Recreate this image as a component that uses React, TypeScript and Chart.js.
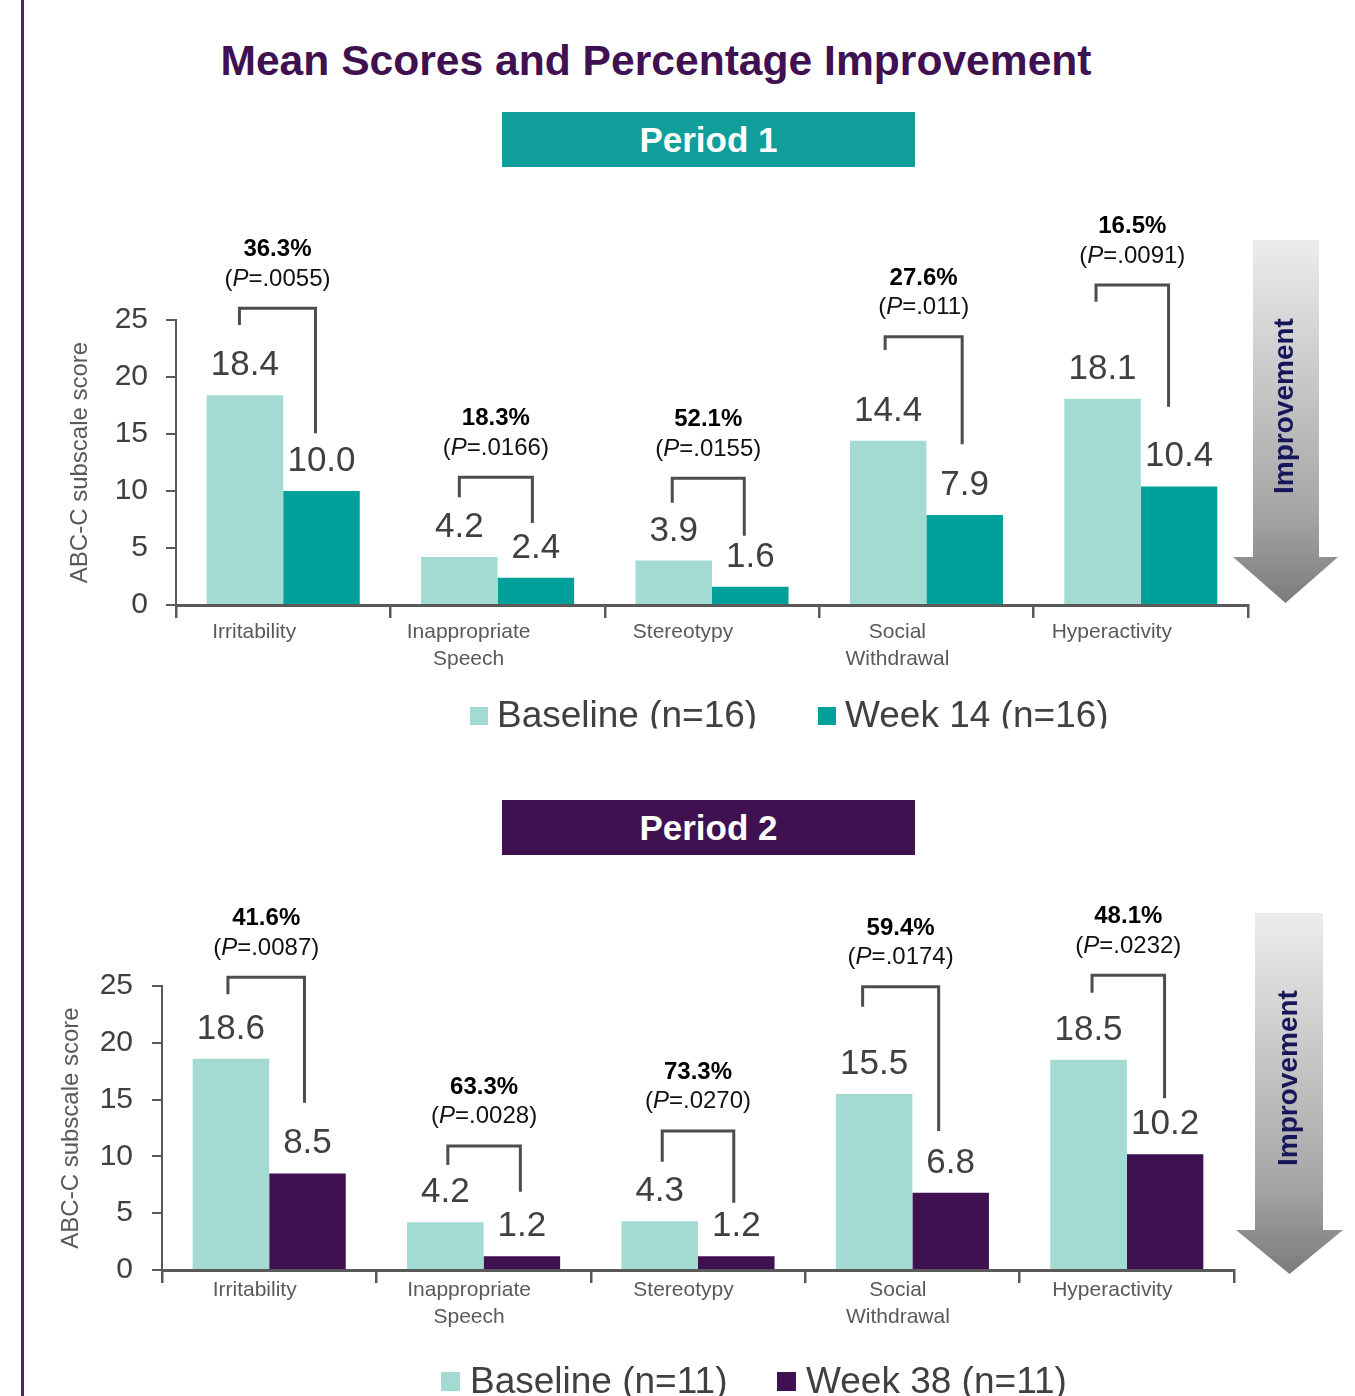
import React, { useEffect, useRef } from 'react';
import { Chart, registerables } from 'chart.js';

Chart.register(...registerables);

const FONT = "'Liberation Sans', Arial, Helvetica, sans-serif";

// ---------- data ----------
const CATEGORIES: string[][] = [
  ['Irritability'],
  ['Inappropriate', 'Speech'],
  ['Stereotypy'],
  ['Social', 'Withdrawal'],
  ['Hyperactivity'],
];
const Y_MIN = 0;
const Y_MAX = 25;
const Y_STEP = 5;
const Y_TITLE = 'ABC-C subscale score';

const P1_BASELINE = [18.4, 4.2, 3.9, 14.4, 18.1];
const P1_WEEK14 = [10.0, 2.4, 1.6, 7.9, 10.4];
const P1_PCT = ['36.3%', '18.3%', '52.1%', '27.6%', '16.5%'];
const P1_PVAL = ['.0055', '.0166', '.0155', '.011', '.0091'];
const P1_LABELS = ['Baseline (n=16)', 'Week 14 (n=16)'];

const P2_BASELINE = [18.6, 4.2, 4.3, 15.5, 18.5];
const P2_WEEK38 = [8.5, 1.2, 1.2, 6.8, 10.2];
const P2_PCT = ['41.6%', '63.3%', '73.3%', '59.4%', '48.1%'];
const P2_PVAL = ['.0087', '.0028', '.0270', '.0174', '.0232'];
const P2_LABELS = ['Baseline (n=11)', 'Week 38 (n=11)'];

// bracket levels in score units (top bar, left-leg end, right-leg end)
const P1_BR_TOP = [26.03, 11.2, 11.11, 23.54, 28.07];
const P1_BR_LEFT = [24.56, 9.45, 8.97, 22.37, 26.6];
const P1_BR_RIGHT = [15.06, 7.19, 6.08, 14.1, 17.4];
const P1_BR_DXL = [-5.5, 0, -1.5, -3, -6.5];
const P1_BR_DXR = [-6, -3.5, -6, -2.5, -10.5];

const P2_BR_TOP = [25.77, 10.92, 12.24, 24.94, 25.94];
const P2_BR_LEFT = [24.27, 9.24, 9.53, 23.18, 24.41];
const P2_BR_RIGHT = [14.73, 6.89, 5.92, 12.24, 15.11];
const P2_BR_DXL = [-3, 2.5, 2.5, -11.5, 3.5];
const P2_BR_DXR = [-3, -1.5, -2.5, -12, -0.5];

const C_BASE = '#a3dbd2';
const C_W14 = '#00a19a';
const C_W38 = '#3f1150';
const C_PURPLE = '#3f1150';
const C_TEAL_BOX = '#0f9e9a';
const C_AXIS = '#595959';
const C_TEXT = '#404040';

// ---------- plugin ----------
const annotPlugin = {
  id: 'annot',
  afterDatasetsDraw(chart: any, _args: any, opts: any) {
    const ctx = chart.ctx as CanvasRenderingContext2D;
    const ys = chart.scales.y;
    const m0 = chart.getDatasetMeta(0);
    const m1 = chart.getDatasetMeta(1);
    ctx.save();
    // value labels
    ctx.font = `35px ${FONT}`;
    ctx.fillStyle = C_TEXT;
    ctx.textAlign = 'center';
    ctx.textBaseline = 'alphabetic';
    [m0, m1].forEach((m: any, di: number) => {
      m.data.forEach((bar: any, j: number) => {
        const v = chart.data.datasets[di].data[j] as number;
        ctx.fillText(v.toFixed(1), bar.x, bar.y - 20);
      });
    });
    // brackets
    const b = opts.bracket;
    for (let j = 0; j < m0.data.length; j++) {
      const xl = m0.data[j].x + b.dxl[j];
      const xr = m1.data[j].x + b.dxr[j];
      const yt = ys.getPixelForValue(b.top[j]);
      ctx.strokeStyle = '#4d4d4d';
      ctx.lineWidth = 3;
      ctx.lineCap = 'butt';
      ctx.lineJoin = 'miter';
      ctx.beginPath();
      ctx.moveTo(xl, ys.getPixelForValue(b.left[j]));
      ctx.lineTo(xl, yt);
      ctx.lineTo(xr, yt);
      ctx.lineTo(xr, ys.getPixelForValue(b.right[j]));
      ctx.stroke();
      const cx = (xl + xr) / 2;
      ctx.textAlign = 'center';
      ctx.fillStyle = '#000';
      ctx.font = `bold 24px ${FONT}`;
      ctx.fillText(opts.pct[j], cx, yt - 52);
      // (P=.xxxx)
      const normal = `24px ${FONT}`;
      const ital = `italic 24px ${FONT}`;
      const segs: [string, string][] = [
        ['(', normal],
        ['P', ital],
        ['=' + opts.pval[j] + ')', normal],
      ];
      let total = 0;
      segs.forEach(([t, f]) => {
        ctx.font = f;
        total += ctx.measureText(t).width;
      });
      let x = cx - total / 2;
      ctx.textAlign = 'left';
      ctx.fillStyle = '#111';
      segs.forEach(([t, f]) => {
        ctx.font = f;
        ctx.fillText(t, x, yt - 22.5);
        x += ctx.measureText(t).width;
      });
    }
    ctx.restore();
  },
  afterDraw(chart: any, _args: any, opts: any) {
    const ctx = chart.ctx as CanvasRenderingContext2D;
    const oy = opts.offsetY;
    // improvement arrow
    const a = opts.arrow;
    ctx.save();
    const g = ctx.createLinearGradient(0, a.top - oy, 0, a.tip - oy);
    g.addColorStop(0, '#ececec');
    g.addColorStop(0.75, '#a6a6a6');
    g.addColorStop(1, '#7b7b7b');
    ctx.fillStyle = g;
    ctx.beginPath();
    ctx.moveTo(a.x0, a.top - oy);
    ctx.lineTo(a.x1, a.top - oy);
    ctx.lineTo(a.x1, a.headY - oy);
    ctx.lineTo(a.hx1, a.headY - oy);
    ctx.lineTo((a.hx0 + a.hx1) / 2, a.tip - oy);
    ctx.lineTo(a.hx0, a.headY - oy);
    ctx.lineTo(a.x0, a.headY - oy);
    ctx.closePath();
    ctx.fill();
    ctx.translate(a.textX, a.textY - oy);
    ctx.rotate(-Math.PI / 2);
    ctx.font = `bold 28px ${FONT}`;
    ctx.fillStyle = '#16165a';
    ctx.textAlign = 'center';
    ctx.textBaseline = 'middle';
    ctx.fillText('Improvement', 0, 0);
    ctx.restore();

    // legend
    const l = opts.legend;
    ctx.save();
    ctx.beginPath();
    ctx.rect(0, 0, chart.width, l.clipY - oy);
    ctx.clip();
    ctx.font = `37px ${FONT}`;
    ctx.textAlign = 'left';
    ctx.textBaseline = 'alphabetic';
    chart.data.datasets.forEach((ds: any, i: number) => {
      const x = l.xs[i];
      ctx.fillStyle = ds.backgroundColor;
      ctx.fillRect(x, l.sqTop - oy, l.sq, l.sq);
      ctx.fillStyle = C_TEXT;
      ctx.fillText(ds.label, x + l.sq + l.gap, l.baseline - oy);
    });
    ctx.restore();
  },
};

type PanelCfg = {
  canvasTop: number;
  height: number;
  padLeft: number;
  yWidth: number;
  padRight: number;
  padTop: number;
  xHeight: number;
  padBottom: number;
  labelOffset: number;
  xLabelPad: number;
  tickPad: number;
  baseline: number[];
  follow: number[];
  labels: string[];
  followColor: string;
  pct: string[];
  pval: string[];
  bracket: any;
  arrow: any;
  legend: any;
};

function Panel({ cfg }: { cfg: PanelCfg }) {
  const ref = useRef<HTMLCanvasElement>(null);
  useEffect(() => {
    if (!ref.current) return;
    const chart = new Chart(ref.current, {
      type: 'bar',
      data: {
        labels: CATEGORIES,
        datasets: [
          { label: cfg.labels[0], data: cfg.baseline, backgroundColor: C_BASE, borderWidth: 0 },
          { label: cfg.labels[1], data: cfg.follow, backgroundColor: cfg.followColor, borderWidth: 0 },
        ],
      },
      options: {
        responsive: false,
        animation: false,
        events: [],
        datasets: { bar: { categoryPercentage: 0.714, barPercentage: 1.0 } },
        layout: {
          padding: { left: cfg.padLeft, right: cfg.padRight, top: cfg.padTop, bottom: cfg.padBottom },
        },
        scales: {
          x: {
            offset: true,
            grid: {
              display: true,
              offset: true,
              drawOnChartArea: false,
              drawTicks: true,
              tickLength: 13,
              color: C_AXIS,
              lineWidth: 2.5,
            },
            border: { display: true, color: C_AXIS, width: 3 },
            ticks: {
              color: C_AXIS,
              font: { family: FONT, size: 21, lineHeight: 1.27 },
              padding: cfg.xLabelPad,
              labelOffset: cfg.labelOffset,
              maxRotation: 0,
              minRotation: 0,
              autoSkip: false,
            },
            afterFit: (s: any) => {
              s.height = cfg.xHeight;
            },
          },
          y: {
            min: Y_MIN,
            max: Y_MAX,
            ticks: {
              stepSize: Y_STEP,
              color: C_TEXT,
              font: { family: FONT, size: 30 },
              padding: cfg.tickPad,
            },
            grid: {
              display: true,
              drawOnChartArea: false,
              drawTicks: true,
              tickLength: 10,
              color: C_AXIS,
              lineWidth: 2,
            },
            border: { display: true, color: C_AXIS, width: 2 },
            title: {
              display: true,
              text: Y_TITLE,
              color: C_AXIS,
              font: { family: FONT, size: 24, lineHeight: 1.2 },
              padding: 0,
            },
            afterFit: (s: any) => {
              s.width = cfg.yWidth;
            },
          },
        },
        plugins: {
          legend: { display: false },
          tooltip: { enabled: false },
          title: { display: false },
          annot: {
            offsetY: cfg.canvasTop,
            pct: cfg.pct,
            pval: cfg.pval,
            bracket: cfg.bracket,
            arrow: cfg.arrow,
            legend: cfg.legend,
          },
        } as any,
      },
      plugins: [annotPlugin],
    });
    return () => chart.destroy();
  }, []);
  return (
    <canvas
      ref={ref}
      width={1355}
      height={cfg.height}
      style={{ position: 'absolute', left: 0, top: cfg.canvasTop, width: 1355, height: cfg.height, display: 'block' }}
    />
  );
}

const PANEL1: PanelCfg = {
  canvasTop: 180,
  height: 560,
  padLeft: 66,
  yWidth: 110,
  padRight: 107,
  padTop: 140,
  xHeight: 85,
  padBottom: 50,
  labelOffset: -29,
  xLabelPad: 1,
  tickPad: 18,
  baseline: P1_BASELINE,
  follow: P1_WEEK14,
  labels: P1_LABELS,
  followColor: C_W14,
  pct: P1_PCT,
  pval: P1_PVAL,
  bracket: { top: P1_BR_TOP, left: P1_BR_LEFT, right: P1_BR_RIGHT, dxl: P1_BR_DXL, dxr: P1_BR_DXR },
  arrow: { x0: 1253, x1: 1319, top: 240, headY: 557, hx0: 1233, hx1: 1338, tip: 603, textX: 1285, textY: 406 },
  legend: { xs: [470, 818], sq: 18, sqTop: 707, baseline: 726.5, clipY: 728.5, gap: 9 },
};

const PANEL2: PanelCfg = {
  canvasTop: 870,
  height: 526,
  padLeft: 57,
  yWidth: 105,
  padRight: 121,
  padTop: 116,
  xHeight: 85,
  padBottom: 41,
  labelOffset: -14.5,
  xLabelPad: -6,
  tickPad: 19,
  baseline: P2_BASELINE,
  follow: P2_WEEK38,
  labels: P2_LABELS,
  followColor: C_W38,
  pct: P2_PCT,
  pval: P2_PVAL,
  bracket: { top: P2_BR_TOP, left: P2_BR_LEFT, right: P2_BR_RIGHT, dxl: P2_BR_DXL, dxr: P2_BR_DXR },
  arrow: { x0: 1255, x1: 1323, top: 913, headY: 1230, hx0: 1236, hx1: 1343, tip: 1274, textX: 1289, textY: 1078 },
  legend: { xs: [441, 777], sq: 19, sqTop: 1372, baseline: 1393, clipY: 1396, gap: 10 },
};

function PeriodBox({ top, color, text }: { top: number; color: string; text: string }) {
  return (
    <div
      style={{
        position: 'absolute',
        left: 502,
        top,
        width: 413,
        height: 55,
        background: color,
        color: '#fff',
        fontFamily: FONT,
        fontWeight: 'bold',
        fontSize: 35,
        display: 'flex',
        alignItems: 'center',
        justifyContent: 'center',
        lineHeight: 1,
      }}
    >
      {text}
    </div>
  );
}

export default function App() {
  return (
    <div
      style={{
        position: 'absolute',
        left: 0,
        top: 0,
        width: 1355,
        height: 1396,
        background: '#fff',
        overflow: 'hidden',
      }}
    >
      <div style={{ position: 'absolute', left: 21, top: 0, width: 3, height: 1396, background: '#4a2463' }} />
      <div
        style={{
          position: 'absolute',
          left: 156,
          top: 38.5,
          width: 1000,
          textAlign: 'center',
          fontFamily: FONT,
          fontWeight: 'bold',
          fontSize: 42.6,
          lineHeight: 1,
          color: C_PURPLE,
          whiteSpace: 'nowrap',
        }}
      >
        Mean Scores and Percentage Improvement
      </div>
      <PeriodBox top={112} color={C_TEAL_BOX} text="Period 1" />
      <Panel cfg={PANEL1} />
      <PeriodBox top={800} color={C_PURPLE} text="Period 2" />
      <Panel cfg={PANEL2} />
    </div>
  );
}
